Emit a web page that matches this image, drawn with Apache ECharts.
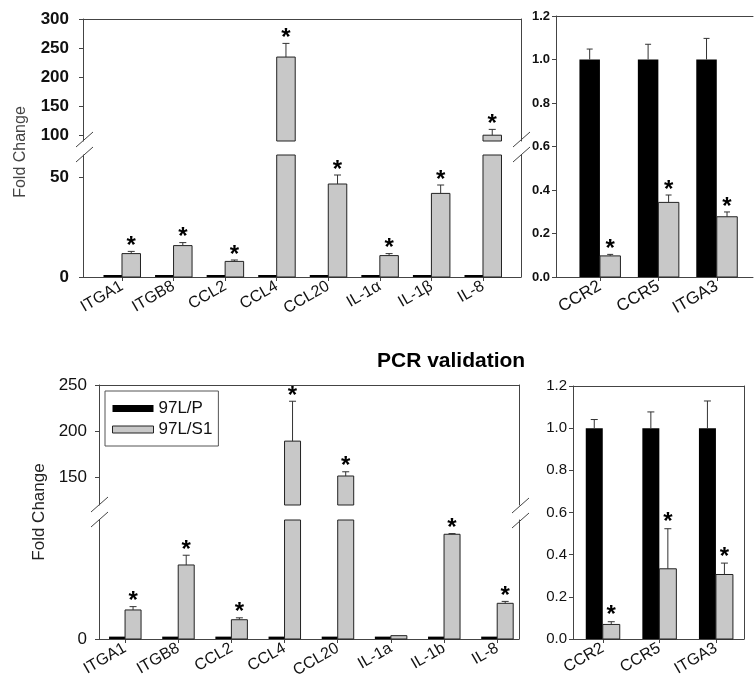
<!DOCTYPE html>
<html><head><meta charset="utf-8">
<script src="https://cdn.jsdelivr.net/npm/echarts@6/dist/echarts.min.js"></script>
<style>html,body{margin:0;padding:0;background:#fff}#c{width:754px;height:687px}</style>
</head><body><div id="c"></div><script>
// ---------- data ----------
const arrayCategories = ['ITGA1','ITGB8','CCL2','CCL4','CCL20','IL-1\u03b1','IL-1\u03b2','IL-8'];
const arrayParental = [1,1,1,1,1,1,1,1];
const arraySelected = [11.7,15.7,7.8,234.5,46.5,10.7,41.8,100];
const arraySelectedErr = [1.1,1.5,0.7,23.5,4.5,1.0,4.2,10];
const arraySig = [1,1,1,1,1,1,1,1];

const arrayDownCategories = ['CCR2','CCR5','ITGA3'];
const arrayDownParental = [1,1,1];
const arrayDownParentalErr = [0.048,0.07,0.097];
const arrayDownSelected = [0.097,0.343,0.277];
const arrayDownSelectedErr = [0.007,0.034,0.022];
const arrayDownSig = [1,1,1];

const pcrCategories = ['ITGA1','ITGB8','CCL2','CCL4','CCL20','IL-1a','IL-1b','IL-8'];
const pcrParental = [1,1,1,1,1,1,1,1];
const pcrSelected = [12.2,31.1,8.1,189.2,151.4,1.4,44.0,15.0];
const pcrSelectedErr = [1.4,4.1,0.8,43.2,4.6,0,0.3,0.8];
const pcrSig = [1,1,1,1,1,0,1,1];

const pcrDownCategories = ['CCR2','CCR5','ITGA3'];
const pcrDownParental = [1,1,1];
const pcrDownParentalErr = [0.041,0.077,0.129];
const pcrDownSelected = [0.069,0.333,0.306];
const pcrDownSelectedErr = [0.013,0.19,0.054];
const pcrDownSig = [1,1,1];

const arrayUpperTicks = [100,150,200,250,300];
const arrayLowerTicks = [0,50];
const pcrUpperTicks = [150,200,250];
const pcrLowerTicks = [0];

// ---------- helpers ----------
const FONT = '"Liberation Sans", Arial, Helvetica, sans-serif';
const NARROW = '"Liberation Sans Narrow", "Liberation Sans", Arial, sans-serif';
const AX = '#444';
const GRAY = '#c8c8c8';

function rows(values, errs, sigs) {
  return values.map((v, i) => [i, v, errs ? errs[i] : 0, sigs ? sigs[i] : 0]);
}

function barSeries(name, xi, yi, data, lo, hi, side, w, fill, stroke, capW, starFont, starGap) {
  return {
    type: 'custom', name: name, xAxisIndex: xi, yAxisIndex: yi, data: data,
    encode: {x: 0, y: 1}, itemStyle: {color: fill},
    renderItem: function (params, api) {
      const x = api.value(0), v = api.value(1), e = api.value(2), s = api.value(3);
      const kids = [];
      if (!(v >= lo)) return {type: 'group', children: kids};
      const p0 = api.coord([x, lo]);
      const cx = p0[0];
      const left = side < 0 ? cx - w : cx;
      const yTop = api.coord([x, Math.min(v, hi)])[1];
      kids.push({type: 'rect', shape: {x: left, y: yTop, width: w, height: p0[1] - yTop},
        style: {fill: fill, stroke: stroke || null, lineWidth: stroke ? 1 : 0}});
      const t = v + e;
      if (t <= hi) {
        const mid = left + w / 2;
        const yE = api.coord([x, t])[1];
        if (e > 0) {
          kids.push({type: 'line', shape: {x1: mid, y1: yTop, x2: mid, y2: yE}, style: {stroke: '#333', lineWidth: 1}});
          kids.push({type: 'line', shape: {x1: mid - capW / 2, y1: yE, x2: mid + capW / 2, y2: yE}, style: {stroke: '#333', lineWidth: 1}});
        }
        if (s) kids.push({type: 'text', style: {text: '*', x: mid, y: yE - starGap, font: starFont, fill: '#000', align: 'center', verticalAlign: 'middle'}});
      }
      return {type: 'group', children: kids};
    }
  };
}

function xBottom(gi, min, max, cats, fontSize, margin) {
  const idx = cats.map((c, i) => i);
  return {type: 'value', gridIndex: gi, min: min, max: max, position: 'bottom',
    axisLine: {show: true, onZero: false, lineStyle: {color: AX, width: 1}},
    axisTick: {show: true, customValues: idx, length: 4, lineStyle: {color: AX}},
    axisLabel: {customValues: idx, formatter: v => cats[Math.round(v)] || '', rotate: 30,
      fontSize: fontSize, fontFamily: FONT, color: '#111', margin: margin},
    splitLine: {show: false}};
}
function xTop(gi, min, max) {
  return {type: 'value', gridIndex: gi, min: min, max: max, position: 'top',
    axisLine: {show: true, onZero: false, lineStyle: {color: AX, width: 1}},
    axisTick: {show: false}, axisLabel: {show: false}, splitLine: {show: false}};
}
function yLeft(gi, min, max, ticks, labelStyle, interval) {
  const ax = {type: 'value', gridIndex: gi, min: min, max: max, position: 'left',
    axisLine: {show: true, onZero: false, lineStyle: {color: AX, width: 1}},
    axisTick: {show: true, length: 4, lineStyle: {color: AX}},
    axisLabel: Object.assign({color: '#111'}, labelStyle),
    splitLine: {show: false}};
  if (ticks) { ax.axisTick.customValues = ticks; ax.axisLabel.customValues = ticks; }
  if (interval) ax.interval = interval;
  return ax;
}
function yRight(gi, min, max) {
  return {type: 'value', gridIndex: gi, min: min, max: max, position: 'right',
    axisLine: {show: true, onZero: false, lineStyle: {color: AX, width: 1}},
    axisTick: {show: false}, axisLabel: {show: false}, splitLine: {show: false}};
}
function slash(x, y) {
  return {type: 'line', shape: {x1: x - 8, y1: y + 7, x2: x + 9, y2: y - 8}, style: {stroke: AX, lineWidth: 1}, silent: true};
}

const STAR = 'bold 24px ' + FONT;
const TLlab = {fontSize: 17, fontWeight: 'bold', fontFamily: FONT, margin: 14};
const BLlab = {fontSize: 17, fontFamily: FONT, margin: 12};
const fmt1 = v => v.toFixed(1);

const option = {
  animation: false,
  backgroundColor: '#fff',
  title: {text: 'PCR validation', left: 372, top: 346,
    textStyle: {fontSize: 21, fontWeight: 'bold', fontFamily: FONT, color: '#000'}},
  legend: {orient: 'vertical', left: 105, top: 391, selectedMode: false,
    icon: 'rect', itemWidth: 41, itemHeight: 7, itemGap: 4,
    padding: [9, 6, 8, 7], borderColor: '#555', borderWidth: 1,
    textStyle: {fontSize: 17, fontFamily: FONT, color: '#111'},
    data: [{name: '97L/P', itemStyle: {color: '#000'}},
           {name: '97L/S1', itemStyle: {color: GRAY, borderColor: '#222', borderWidth: 1}}]},
  grid: [
    {left: 83, top: 19, width: 438, height: 122},
    {left: 83, top: 155, width: 438, height: 122},
    {left: 556, top: 16, width: 197, height: 261},
    {left: 99, top: 385, width: 420, height: 120},
    {left: 99, top: 520, width: 420, height: 119},
    {left: 573, top: 386, width: 171, height: 253}
  ],
  xAxis: [
    xTop(0, -0.756, 7.737),
    xBottom(1, -0.756, 7.737, arrayCategories, 16, 8),
    xBottom(2, -0.752, 2.62, arrayDownCategories, 17, 8),
    xTop(2, -0.752, 2.62),
    xTop(3, -0.49, 7.41),
    xBottom(4, -0.49, 7.41, pcrCategories, 16, 8),
    xBottom(5, -0.526, 2.496, pcrDownCategories, 16, 8),
    xTop(5, -0.526, 2.496)
  ],
  yAxis: [
    yLeft(0, 90, 300, arrayUpperTicks, TLlab),
    yRight(0, 90, 300),
    yLeft(1, 0, 61, arrayLowerTicks, TLlab),
    yRight(1, 0, 61),
    yLeft(2, 0, 1.2, null, {fontSize: 13, fontWeight: 'bold', fontFamily: NARROW, margin: 6, formatter: fmt1}, 0.2),
    yLeft(3, 120, 250, pcrUpperTicks, BLlab),
    yRight(3, 120, 250),
    yLeft(4, 0, 50, pcrLowerTicks, BLlab),
    yRight(4, 0, 50),
    yLeft(5, 0, 1.2, null, {fontSize: 15, fontFamily: FONT, margin: 6, formatter: fmt1}, 0.2),
    yRight(5, 0, 1.2)
  ],
  series: [
    barSeries('97L/P', 0, 0, rows(arrayParental), 90, 300, -1, 18.5, '#000', null, 7, STAR, 5),
    barSeries('97L/S1', 0, 0, rows(arraySelected, arraySelectedErr, arraySig), 90, 300, 1, 18.5, GRAY, '#222', 7, STAR, 5),
    barSeries('97L/P', 1, 2, rows(arrayParental), 0, 61, -1, 18.5, '#000', null, 7, STAR, 5),
    barSeries('97L/S1', 1, 2, rows(arraySelected, arraySelectedErr, arraySig), 0, 61, 1, 18.5, GRAY, '#222', 7, STAR, 5),
    barSeries('97L/P', 2, 4, rows(arrayDownParental, arrayDownParentalErr), 0, 1.2, -1, 20.5, '#000', null, 6, STAR, 5),
    barSeries('97L/S1', 2, 4, rows(arrayDownSelected, arrayDownSelectedErr, arrayDownSig), 0, 1.2, 1, 20.5, GRAY, '#222', 6, STAR, 5),
    barSeries('97L/P', 4, 5, rows(pcrParental), 120, 250, -1, 16, '#000', null, 7, STAR, 5),
    barSeries('97L/S1', 4, 5, rows(pcrSelected, pcrSelectedErr, pcrSig), 120, 250, 1, 16, GRAY, '#222', 7, STAR, 5),
    barSeries('97L/P', 5, 7, rows(pcrParental), 0, 50, -1, 16, '#000', null, 7, STAR, 5),
    barSeries('97L/S1', 5, 7, rows(pcrSelected, pcrSelectedErr, pcrSig), 0, 50, 1, 16, GRAY, '#222', 7, STAR, 5),
    barSeries('97L/P', 6, 9, rows(pcrDownParental, pcrDownParentalErr), 0, 1.2, -1, 17, '#000', null, 7, STAR, 6),
    barSeries('97L/S1', 6, 9, rows(pcrDownSelected, pcrDownSelectedErr, pcrDownSig), 0, 1.2, 1, 17, GRAY, '#222', 7, STAR, 6)
  ],
  graphic: [
    {type: 'text', x: 21, y: 152, rotation: Math.PI / 2, silent: true,
      style: {text: 'Fold Change', font: '16px ' + FONT, fill: '#444', align: 'center', verticalAlign: 'middle'}},
    {type: 'text', x: 39, y: 512, rotation: Math.PI / 2, silent: true,
      style: {text: 'Fold Change', font: '17px ' + FONT, fill: '#222', align: 'center', verticalAlign: 'middle'}},
    slash(84, 140), slash(84, 155), slash(521, 140), slash(521, 155),
    slash(99, 505), slash(99, 520), slash(520, 506), slash(520, 521)
  ]
};

const chart = echarts.init(document.getElementById('c'), null, {renderer: 'canvas'});
chart.setOption(option);
</script></body></html>
